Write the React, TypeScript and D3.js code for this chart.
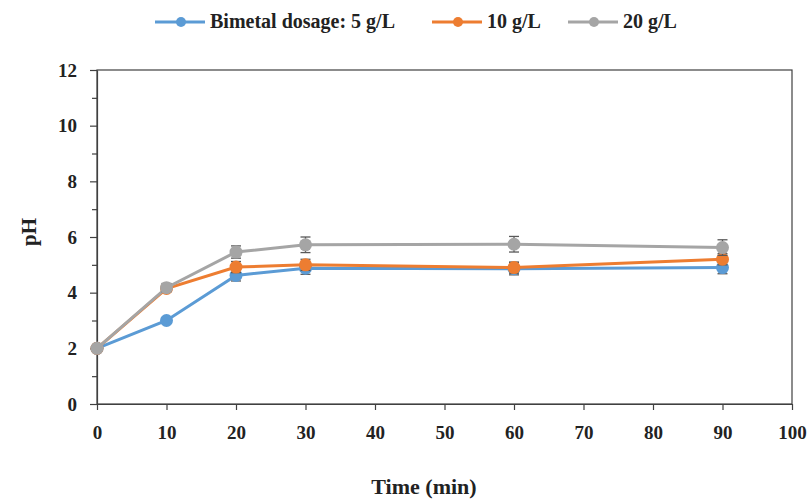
import React, { useRef, useEffect } from "react"
import * as d3 from "d3"

// time points (min)
const times = [0, 10, 20, 30, 60, 90]
const seriesNames = ["Bimetal dosage: 5 g/L", "10 g/L", "20 g/L"]
const colors = ["#5B9BD5", "#ED7D31", "#A5A5A5"]
const ph5 = [2.0, 3.0, 4.62, 4.88, 4.86, 4.9]
const ph10 = [2.0, 4.15, 4.92, 5.0, 4.9, 5.2]
const ph20 = [2.0, 4.18, 5.46, 5.72, 5.74, 5.62]
const err5 = [0, 0.1, 0.2, 0.22, 0.22, 0.22]
const err10 = [0, 0.1, 0.2, 0.2, 0.2, 0.2]
const err20 = [0, 0.15, 0.22, 0.28, 0.28, 0.28]
const xTicks = [0, 10, 20, 30, 40, 50, 60, 70, 80, 90, 100]
const yTicks = [0, 2, 4, 6, 8, 10, 12]
const yMinor = [1, 3, 5, 7, 9, 11]

const App = () => {
  const ref = useRef(null)
  const width = 811
  const height = 500
  const margin = { top: 70, right: 19, bottom: 96, left: 97 }
  const font = "'Liberation Serif', 'DejaVu Serif', serif"

  useEffect(() => {
    if (!ref.current) return
    const svg = d3.select(ref.current)
    svg.selectAll("*").remove()

    const x = d3.scaleLinear().domain([0, 100]).range([margin.left, width - margin.right])
    const y = d3.scaleLinear().domain([0, 12]).range([height - margin.bottom, margin.top])
    const axisColor = "#404040"

    // frame
    svg.append("rect")
      .attr("x", x(0)).attr("y", y(12))
      .attr("width", x(100) - x(0)).attr("height", y(0) - y(12))
      .attr("fill", "none").attr("stroke", axisColor).attr("stroke-width", 1.2)

    const xAxis = svg.append("g")
      .attr("transform", `translate(0,${y(0)})`)
      .call(d3.axisBottom(x).tickValues(xTicks).tickSize(6).tickPadding(16).tickSizeOuter(0))
    const yAxis = svg.append("g")
      .attr("transform", `translate(${x(0)},0)`)
      .call(d3.axisLeft(y).tickValues(yTicks).tickSize(7).tickPadding(13).tickSizeOuter(0))
    svg.append("g")
      .attr("transform", `translate(${x(0)},0)`)
      .call(d3.axisLeft(y).tickValues(yMinor).tickSize(5).tickFormat(() => "").tickSizeOuter(0))
      .call(g => g.select(".domain").remove())
      .selectAll("line").attr("stroke", axisColor).attr("stroke-width", 1.2)

    for (const g of [xAxis, yAxis]) {
      g.select(".domain").attr("stroke", axisColor).attr("stroke-width", 1.2)
      g.selectAll(".tick line").attr("stroke", axisColor).attr("stroke-width", 1.2)
      g.selectAll("text")
        .attr("font-family", font).attr("font-size", 19).attr("font-weight", "bold")
        .attr("fill", "#222")
    }

    // axis titles
    svg.append("text")
      .attr("x", 424).attr("y", 494)
      .attr("text-anchor", "middle")
      .attr("font-family", font).attr("font-size", 22).attr("font-weight", "bold")
      .attr("fill", "#222")
      .text("Time (min)")
    svg.append("text")
      .attr("transform", `translate(36,232) rotate(-90)`)
      .attr("text-anchor", "middle")
      .attr("font-family", font).attr("font-size", 21).attr("font-weight", "bold")
      .attr("fill", "#222")
      .text("pH")

    const series = [
      { name: seriesNames[0], color: colors[0], vals: ph5, errs: err5 },
      { name: seriesNames[1], color: colors[1], vals: ph10, errs: err10 },
      { name: seriesNames[2], color: colors[2], vals: ph20, errs: err20 },
    ]

    const line = d3.line<number>()
      .x((d, i) => x(times[i]))
      .y(d => y(d))

    series.forEach(s => {
      const g = svg.append("g")
      g.append("path")
        .datum(s.vals)
        .attr("d", line)
        .attr("fill", "none")
        .attr("stroke", s.color)
        .attr("stroke-width", 3)
      // error bars
      const eb = g.selectAll(".eb").data(s.vals.map((v, i) => ({ v, e: s.errs[i], t: times[i] })).filter(d => d.e > 0))
        .join("g").attr("stroke", "#595959").attr("stroke-width", 1.3)
      eb.append("line")
        .attr("x1", d => x(d.t)).attr("x2", d => x(d.t))
        .attr("y1", d => y(d.v - d.e)).attr("y2", d => y(d.v + d.e))
      eb.append("line")
        .attr("x1", d => x(d.t) - 5).attr("x2", d => x(d.t) + 5)
        .attr("y1", d => y(d.v - d.e)).attr("y2", d => y(d.v - d.e))
      eb.append("line")
        .attr("x1", d => x(d.t) - 5).attr("x2", d => x(d.t) + 5)
        .attr("y1", d => y(d.v + d.e)).attr("y2", d => y(d.v + d.e))
      g.selectAll("circle")
        .data(s.vals)
        .join("circle")
        .attr("cx", (d, i) => x(times[i]))
        .attr("cy", d => y(d))
        .attr("r", 6.5)
        .attr("fill", s.color)
    })

    // legend
    const legendPos = [155, 432, 568]
    series.forEach((s, i) => {
      const lg = svg.append("g").attr("transform", `translate(${legendPos[i]},22)`)
      lg.append("line").attr("x1", 0).attr("x2", 50).attr("y1", 0).attr("y2", 0)
        .attr("stroke", s.color).attr("stroke-width", 3)
      lg.append("circle").attr("cx", 26).attr("cy", 0).attr("r", 5).attr("fill", s.color)
      lg.append("text")
        .attr("x", 55).attr("y", 6)
        .attr("font-family", font).attr("font-size", 20).attr("font-weight", "bold")
        .attr("fill", "#222")
        .text(s.name)
    })
  }, [])

  return (
    <svg
      ref={ref}
      width={width}
      height={height}
      style={{ position: "absolute", left: 0, top: 0, background: "#fff" }}
    />
  )
}

export default App
